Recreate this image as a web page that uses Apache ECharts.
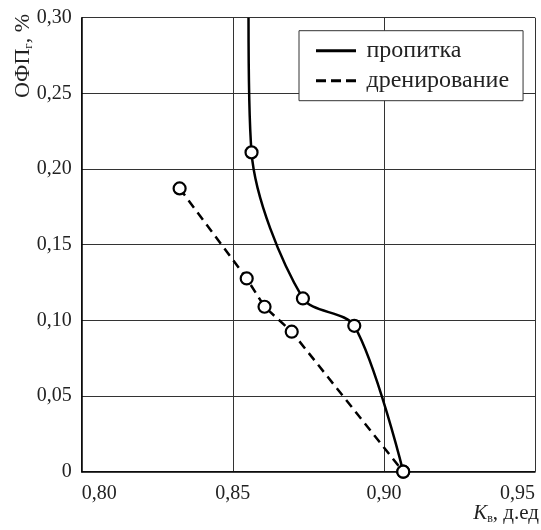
<!DOCTYPE html>
<html><head><meta charset="utf-8">
<script src="https://cdn.jsdelivr.net/npm/echarts@6/dist/echarts.min.js"></script>
<style>html,body{margin:0;padding:0;background:#fff}#c{width:541px;height:530px}</style>
</head><body><div id="c"></div>
<script>
const seriesNames = ['пропитка', 'дренирование'];
const impregX = [0.8552, 0.8562, 0.8732, 0.8902, 0.9064];
const impregY = [0.300, 0.211, 0.1145, 0.0964, 0.000];
const impregMarked = [false, true, true, true, true];
const drainX = [0.8324, 0.8546, 0.8605, 0.8695, 0.9064];
const drainY = [0.1872, 0.1277, 0.109, 0.0925, 0.000];
const xTicks = [0.80, 0.85, 0.90, 0.95];
const yTicks = [0, 0.05, 0.10, 0.15, 0.20, 0.25, 0.30];

const FONT = 'Liberation Serif';
const fmt = v => v === 0 ? '0' : v.toFixed(2).replace('.', ',');
const chart = echarts.init(document.getElementById('c'), null, {renderer: 'canvas'});
const sym = {symbol: 'circle', symbolSize: 12, itemStyle: {color: '#fff', borderColor: '#000', borderWidth: 2.2}};

chart.setOption({
  animation: false,
  backgroundColor: '#fff',
  grid: {left: 81.7, right: 6, top: 17.7, bottom: 58.3, containLabel: false, outerBoundsMode: 'none'},
  xAxis: {
    type: 'value', min: xTicks[0], max: xTicks[xTicks.length - 1], interval: 0.05,
    axisLine: {lineStyle: {color: '#000', width: 1.5}},
    axisTick: {show: false},
    axisLabel: {formatter: fmt, fontFamily: FONT, fontSize: 20, color: '#222', margin: 12,
                alignMinLabel: 'left', alignMaxLabel: 'right'},
    splitLine: {show: true, lineStyle: {color: '#333', width: 1}}
  },
  yAxis: {
    type: 'value', min: yTicks[0], max: yTicks[yTicks.length - 1], interval: 0.05,
    axisLine: {show: true, lineStyle: {color: '#000', width: 1.5}},
    axisTick: {show: false},
    axisLabel: {formatter: fmt, fontFamily: FONT, fontSize: 20, color: '#222', margin: 10},
    splitLine: {show: true, lineStyle: {color: '#333', width: 1}}
  },
  legend: {
    orient: 'vertical', left: 299, top: 30.7,
    padding: [8, 14, 8, 17],
    backgroundColor: '#fff', borderColor: '#333', borderWidth: 1,
    itemWidth: 41, itemHeight: 3, itemGap: 6,
    itemStyle: {color: '#000', borderWidth: 0},
    textStyle: {fontFamily: FONT, fontSize: 24, color: '#222', lineHeight: 24, padding: [0, 0, 0, 5]},
    data: [
      {name: seriesNames[0], icon: 'path://M0,0 L40,0 L40,3 L0,3 Z'},
      {name: seriesNames[1], icon: 'path://M0,0 h10 v3 h-10z M15,0 h10 v3 h-10z M30,0 h10 v3 h-10z'}
    ]
  },
  graphic: [
    {type: 'text', left: 12, top: 14,
     style: {text: '{a|ОФП}{s|г}{a|, %}', rich: {a: {fontFamily: FONT, fontSize: 22, fill: '#222'}, s: {fontFamily: FONT, fontSize: 13, fill: '#222', padding: [11, 0, 0, 0]}}},
     rotation: Math.PI / 2},
    {type: 'text', right: 2, bottom: 5,
     style: {text: '{k|K}{s|в}{a|, д.ед}', rich: {k: {fontFamily: FONT, fontSize: 21, fontStyle: 'italic', fill: '#222'}, a: {fontFamily: FONT, fontSize: 21, fill: '#222'}, s: {fontFamily: FONT, fontSize: 12, fill: '#222', padding: [11, 0, 0, 0]}}}}
  ],
  series: [
    {name: seriesNames[0], type: 'line', smooth: 0.3, color: '#000',
     lineStyle: {color: '#000', width: 2.5}, ...sym,
     data: impregX.map((x, i) => impregMarked[i] ? [x, impregY[i]] : {value: [x, impregY[i]], symbol: 'none'})},
    {name: seriesNames[1], type: 'line', color: '#000',
     lineStyle: {color: '#000', width: 2.5, type: [9, 6]}, ...sym,
     data: drainX.map((x, i) => [x, drainY[i]])}
  ]
});
</script></body></html>
